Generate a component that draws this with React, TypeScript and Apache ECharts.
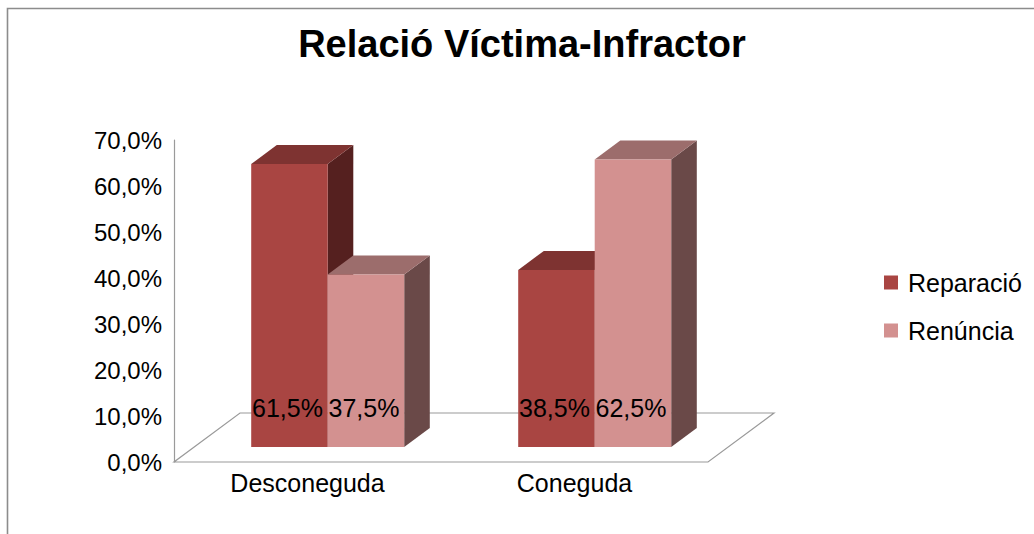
import React, { useEffect, useRef } from "react";
import * as echarts from "echarts";

const categories = ["Desconeguda", "Coneguda"];
const seriesNames = ["Reparació", "Renúncia"];
const reparacio = [61.5, 38.5];
const renuncia = [37.5, 62.5];
const yTicks = [0, 10, 20, 30, 40, 50, 60, 70];

const FONT = "'Liberation Sans', Arial, sans-serif";
const DX = 66;
const DY = -49;
const F0 = 15 / 49;
const F1 = 34 / 49;
const BAR_FRAC = 0.2865;

const palettes = [
  { front: "#A94542", top: "#7E3331", side: "#55201F" },
  { front: "#D39190", top: "#9C6D6C", side: "#6A4948" },
];

const fmt = (v: number) => v.toFixed(1).replace(".", ",") + "%";

function makeBarRender(k: number, pal: { front: string; top: string; side: string }) {
  return (params: any, api: any) => {
    const ci = api.value(0);
    const v = api.value(1);
    const base = api.coord([ci, 0]);
    const top = api.coord([ci, v]);
    const band = api.size([1, 0])[0];
    const bw = band * BAR_FRAC;
    const x0 = base[0] + k * bw + DX * F0;
    const x1 = x0 + bw;
    const yb = base[1] + DY * F0;
    const yt = top[1] + DY * F0;
    const ddx = DX * (F1 - F0);
    const ddy = DY * (F1 - F0);
    return {
      type: "group",
      children: [
        {
          type: "polygon",
          shape: {
            points: [
              [x1, yt],
              [x1 + ddx, yt + ddy],
              [x1 + ddx, yb + ddy],
              [x1, yb],
            ],
          },
          style: { fill: pal.side },
        },
        {
          type: "polygon",
          shape: {
            points: [
              [x0, yt],
              [x1, yt],
              [x1 + ddx, yt + ddy],
              [x0 + ddx, yt + ddy],
            ],
          },
          style: { fill: pal.top },
        },
        {
          type: "rect",
          shape: { x: x0, y: yt, width: bw, height: yb - yt },
          style: { fill: pal.front },
        },
        {
          type: "text",
          style: {
            x: (x0 + x1) / 2 - 2,
            y: yb - 39,
            text: fmt(v),
            align: "center",
            verticalAlign: "middle",
            fill: "#000",
            font: `25px ${FONT}`,
          },
        },
      ],
    };
  };
}

const floorRender = (params: any, api: any) => {
  const base = api.coord([0, 0]);
  const band = api.size([1, 0])[0];
  const left = base[0] - band / 2;
  const right = left + band * categories.length;
  const y = base[1];
  return {
    type: "polygon",
    shape: {
      points: [
        [left, y],
        [right, y],
        [right + DX, y + DY],
        [left + DX, y + DY],
      ],
    },
    style: { fill: "#ffffff", stroke: "#9a9a9a", lineWidth: 1.2 },
  };
};

export default function App() {
  const ref = useRef<HTMLDivElement>(null);
  useEffect(() => {
    document.body.style.margin = "0";
    if (!ref.current) return;
    const chart = echarts.init(ref.current, null, { renderer: "svg" });
    chart.setOption({
      animation: false,
      backgroundColor: "#ffffff",
      title: {
        text: "Relació Víctima-Infractor",
        left: 522,
        textAlign: "center",
        top: 25,
        padding: 0,
        textStyle: { fontFamily: FONT, fontSize: 38, fontWeight: "bold", color: "#000" },
      },
      legend: {
        orient: "vertical",
        left: 884,
        top: 270,
        itemWidth: 14,
        itemHeight: 14,
        itemGap: 23,
        icon: "rect",
        padding: 0,
        data: seriesNames,
        textStyle: { fontFamily: FONT, fontSize: 25, color: "#000", padding: [0, 0, 0, 5] },
      },
      graphic: [
        {
          type: "polyline",
          shape: { points: [[7.5, 600], [7.5, 8.5], [1100, 8.5]] },
          style: { stroke: "#8c8c8c", lineWidth: 1.6, fill: "none" },
          silent: true,
        },
      ],
      grid: { left: 174, top: 140, width: 534, height: 322 },
      xAxis: {
        type: "category",
        data: categories,
        axisLine: { show: false },
        axisTick: { show: false },
        axisLabel: { fontFamily: FONT, fontSize: 25, color: "#000", margin: 8 },
        splitLine: { show: false },
      },
      yAxis: {
        type: "value",
        min: yTicks[0],
        max: yTicks[yTicks.length - 1],
        interval: 10,
        axisLine: { show: true, lineStyle: { color: "#9a9a9a", width: 1.2 } },
        axisTick: { show: false },
        splitLine: { show: false },
        axisLabel: {
          fontFamily: FONT,
          fontSize: 24,
          color: "#000",
          margin: 12,
          formatter: (v: number) => fmt(v),
        },
      },
      series: [
        {
          type: "custom",
          name: "floor",
          renderItem: floorRender,
          data: [[0, 0]],
          silent: true,
          z: 1,
        },
        {
          type: "custom",
          name: seriesNames[0],
          itemStyle: { color: palettes[0].front },
          renderItem: makeBarRender(-1, palettes[0]),
          data: categories.map((_, i) => [i, reparacio[i]]),
          z: 2,
        },
        {
          type: "custom",
          name: seriesNames[1],
          itemStyle: { color: palettes[1].front },
          renderItem: makeBarRender(0, palettes[1]),
          data: categories.map((_, i) => [i, renuncia[i]]),
          z: 2,
        },
      ],
    });
    return () => chart.dispose();
  }, []);
  return <div ref={ref} style={{ width: 1034, height: 534 }} />;
}
